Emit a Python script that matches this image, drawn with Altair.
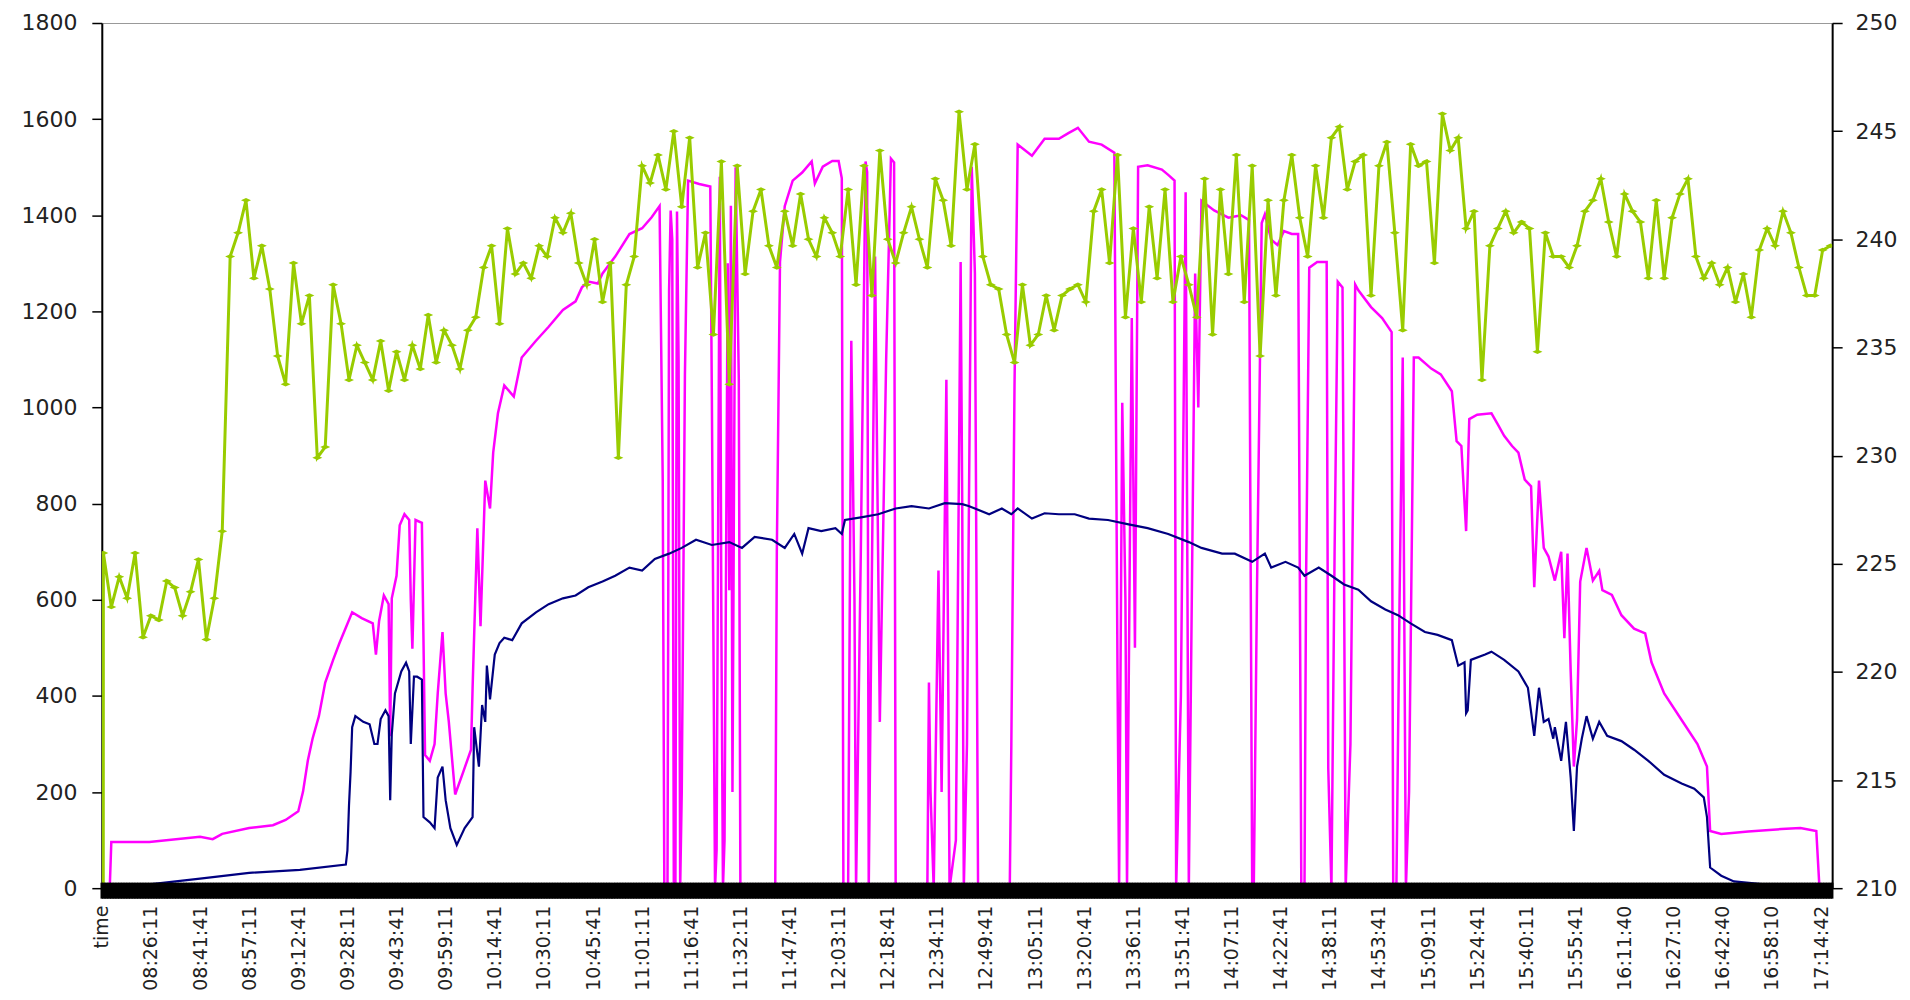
import json
import altair as alt
import pandas as pd

# ---------------- data ----------------
# category labels shown on the x axis (one every 31 samples; first category is the header "time")
X_LABELS = ["time", "08:26:11", "08:41:41", "08:57:11", "09:12:41", "09:28:11", "09:43:41",
            "09:59:11", "10:14:41", "10:30:11", "10:45:41", "11:01:11", "11:16:41", "11:32:11",
            "11:47:41", "12:03:11", "12:18:41", "12:34:11", "12:49:41", "13:05:11", "13:20:41",
            "13:36:11", "13:51:41", "14:07:11", "14:22:41", "14:38:11", "14:53:41", "15:09:11",
            "15:24:41", "15:40:11", "15:55:41", "16:11:40", "16:27:10", "16:42:40", "16:58:10",
            "17:14:42"]
LABEL_EVERY = 31
N_SAMPLES = 1093

# green series (right axis, V) - header row plotted as 0, then one reading every 5 samples
GREEN_HEADER = 0.0
GREEN_START = 1
GREEN_STEP = 5
GREEN_V = [
    225.5, 223.0, 224.4, 223.4, 225.5, 221.6, 222.6, 222.4, 224.2, 223.9,
    222.6, 223.7, 225.2, 221.5, 223.4, 226.5, 239.2, 240.3, 241.8, 238.2,
    239.7, 237.7, 234.6, 233.3, 238.9, 236.1, 237.4, 229.9, 230.4, 237.9,
    236.1, 233.5, 235.1, 234.3, 233.5, 235.3, 233.0, 234.8, 233.5, 235.1,
    234.0, 236.5, 234.3, 235.8, 235.1, 234.0, 235.8, 236.4, 238.7, 239.7,
    236.1, 240.5, 238.4, 238.9, 238.2, 239.7, 239.2, 241.0, 240.3, 241.2,
    238.9, 237.9, 240.0, 237.1, 238.9, 229.9, 237.9, 239.2, 243.4, 242.6,
    243.9, 242.3, 245.0, 241.5, 244.7, 238.7, 240.3, 235.6, 243.6, 233.3,
    243.4, 238.4, 241.3, 242.3, 239.7, 238.7, 241.3, 239.7, 242.1, 240.0,
    239.2, 241.0, 240.3, 239.2, 242.3, 237.9, 243.4, 237.4, 244.1, 240.0,
    238.9, 240.3, 241.5, 240.0, 238.7, 242.8, 241.8, 239.7, 245.9, 242.3,
    244.4, 239.2, 237.9, 237.7, 235.6, 234.3, 237.9, 235.1, 235.6, 237.4,
    235.8, 237.4, 237.7, 237.9, 237.1, 241.3, 242.3, 238.9, 243.9, 236.4,
    240.5, 237.1, 241.5, 238.2, 242.3, 237.1, 239.2, 237.9, 236.4, 242.8,
    235.6, 242.3, 238.4, 243.9, 237.1, 243.4, 234.6, 241.8, 237.4, 241.8,
    243.9, 241.0, 239.2, 243.4, 241.0, 244.7, 245.2, 242.3, 243.6, 243.9,
    237.4, 243.4, 244.5, 240.3, 235.8, 244.4, 243.4, 243.6, 238.9, 245.8,
    244.1, 244.7, 240.5, 241.3, 233.5, 239.7, 240.5, 241.3, 240.3, 240.8,
    240.5, 234.8, 240.3, 239.2, 239.2, 238.7, 239.7, 241.3, 241.8, 242.8,
    240.8, 239.2, 242.1, 241.3, 240.8, 238.2, 241.8, 238.2, 241.0, 242.1,
    242.8, 239.2, 238.2, 238.9, 237.9, 238.7, 237.1, 238.4, 236.4, 239.5,
    240.5, 239.7, 241.3, 240.3, 238.7, 237.4, 237.4, 239.5, 239.7,
]

# magenta series (left axis): sample index / value
MAG_X = [0, 5, 6, 30, 62, 70, 76, 93, 108, 116, 124, 127, 130, 133, 137, 141, 146, 150, 158, 164,
         171, 173, 175, 178, 181, 182, 183, 186, 188, 191, 194, 195, 196, 198, 202, 204, 207, 210,
         212, 215, 217, 219, 223, 228, 233, 234, 237, 239, 242, 245, 247, 250, 254, 260, 265, 274,
         282, 291, 299, 303, 307, 313, 316, 324, 333, 341, 347, 352, 354, 355, 357, 358, 359, 360,
         361, 362, 363, 364, 365, 366, 368, 370, 377, 384, 385, 387, 388, 390, 391, 392, 393, 395,
         396, 397, 398, 400, 402, 403, 425, 426, 428, 431, 436, 442, 448, 450, 455, 461, 465, 467,
         468, 471, 473, 475, 476, 479, 482, 483, 484, 488, 491, 495, 498, 500, 501, 521, 522, 523,
         525, 528, 530, 533, 535, 539, 542, 543, 544, 546, 549, 551, 553, 573, 574, 576, 578, 587,
         595, 604, 610, 616, 623, 631, 639, 641, 642, 644, 646, 647, 650, 652, 654, 660, 669, 673,
         677, 678, 681, 684, 686, 690, 692, 694, 702, 711, 719, 724, 726, 727, 729, 732, 734, 738,
         742, 746, 751, 755, 757, 759, 760, 762, 767, 773, 774, 776, 778, 780, 783, 785, 788, 791,
         793, 801, 808, 814, 815, 817, 819, 821, 823, 825, 828, 831, 839, 845, 852, 855, 858, 861,
         863, 868, 877, 881, 885, 890, 894, 898, 902, 904, 907, 910, 913, 917, 921, 923, 925, 927,
         929, 931, 933, 937, 941, 945, 947, 953, 959, 967, 974, 978, 986, 997, 1007, 1013, 1015,
         1022, 1039, 1060, 1072, 1082, 1084, 1092]
MAG_Y = [0, 0, 96, 96, 107, 102, 113, 125, 131, 142, 160, 201, 265, 311, 358, 428, 475, 510, 574, 562,
         551, 486, 556, 609, 591, 316, 603, 650, 755, 778, 766, 600, 498, 766, 760, 277, 265, 300,
         405, 533, 405, 346, 195, 241, 288, 416, 749, 545, 848, 790, 906, 988, 1046, 1023, 1104, 1139,
         1168, 1203, 1221, 1250, 1262, 1258, 1279, 1314, 1361, 1373, 1396, 1419, 848, 0, 0, 1244, 1410, 1350,
         0, 0, 1408, 1100, 0, 200, 1069, 1472, 1465, 1460, 1023, 0, 80, 1480, 550, 0, 100, 1300,
         620, 1420, 200, 1500, 1060, 0, 0, 700, 1303, 1419, 1472, 1489, 1512, 1466, 1501, 1513, 1513, 1477,
         0, 0, 1139, 600, 0, 700, 1512, 1490, 0, 1314, 346, 1100, 1518, 1510, 0, 0, 428, 200,
         0, 661, 200, 1058, 0, 100, 1303, 800, 0, 300, 1501, 1279, 0, 0, 300, 1046, 1547, 1524,
         1559, 1559, 1571, 1582, 1553, 1547, 1530, 450, 0, 1010, 600, 0, 1186, 500, 1501, 1504, 1495, 1484,
         1472, 0, 400, 1448, 0, 1279, 1000, 1430, 1410, 1395, 1400, 1390, 0, 0, 615, 1384, 1402, 1349,
         1338, 1367, 1361, 1361, 0, 0, 638, 1291, 1303, 1303, 250, 0, 700, 1262, 1250, 0, 300, 1256,
         1244, 1209, 1186, 1157, 0, 0, 600, 1104, 0, 200, 1104, 1104, 1081, 1069, 1034, 930, 920, 743,
         976, 985, 988, 965, 941, 920, 906, 850, 836, 626, 848, 708, 690, 640, 700, 520, 696, 450,
         253, 350, 638, 708, 640, 660, 620, 610, 568, 540, 530, 470, 405, 350, 300, 253, 119,
         113, 118, 123, 125, 119, 0, 0]

# navy series (left axis): sample index / value
NAVY_X = [0, 3, 30, 62, 93, 125, 154, 155, 156, 157, 158, 160, 165, 169, 172, 174, 176, 179, 181, 182,
          183, 185, 189, 192, 194, 195, 197, 199, 202, 203, 207, 210, 212, 215, 217, 220, 224, 229,
          234, 235, 238, 240, 242, 243, 245, 248, 251, 254, 259, 265, 274, 282, 291, 299, 307, 316,
          324, 333, 341, 349, 358, 366, 375, 385, 396, 404, 412, 423, 431, 437, 442, 446, 454, 463,
          467, 469, 480, 490, 501, 511, 522, 532, 543, 547, 551, 560, 568, 574, 578, 587, 595, 604,
          614, 623, 635, 648, 660, 673, 686, 694, 707, 715, 726, 734, 738, 747, 755, 759, 768, 776,
          784, 793, 801, 810, 818, 826, 835, 843, 852, 856, 860, 861, 862, 864, 873, 877, 885, 894,
          900, 904, 907, 910, 913, 916, 917, 921, 924, 927, 929, 931, 934, 937, 941, 945, 950, 959,
          967, 976, 986, 997, 1005, 1011, 1013, 1015, 1022, 1030, 1049, 1081, 1092]
NAVY_Y = [0, 3, 8, 20, 32, 38, 49, 78, 172, 242, 335, 358, 346, 341, 300, 300, 352, 370, 358, 183,
          320, 405, 451, 469, 451, 300, 440, 440, 434, 148, 137, 125, 230, 253, 183, 125, 90, 125,
          148, 335, 253, 381, 346, 463, 393, 486, 510, 521, 516, 551, 574, 591, 603, 609, 626, 638,
          650, 667, 661, 685, 696, 708, 725, 714, 720, 708, 731, 725, 708, 737, 696, 749, 743, 749,
          737, 766, 772, 778, 790, 795, 790, 801, 799, 795, 790, 778, 790, 778, 790, 769, 780, 778,
          778, 769, 766, 757, 749, 737, 720, 708, 696, 696, 679, 696, 667, 679, 667, 650, 667, 650,
          632, 621, 597, 580, 568, 551, 533, 527, 516, 463, 470, 364, 370, 475, 486, 492, 475, 451,
          417, 317, 417, 346, 352, 311, 335, 265, 346, 230, 119, 253, 311, 358, 311, 346, 317, 306,
          288, 265, 236, 218, 207, 189, 148, 43, 26, 14, 8, 6, 5]

# ---------------- tables ----------------
green_x = [0] + [GREEN_START + GREEN_STEP * i for i in range(len(GREEN_V))]
green_df = pd.DataFrame({"s": green_x, "v": [GREEN_HEADER] + GREEN_V})
green_pts_df = green_df.iloc[1:]
mag_df = pd.DataFrame({"s": MAG_X, "p": MAG_Y})
navy_df = pd.DataFrame({"s": NAVY_X, "p": NAVY_Y})
band_df = pd.DataFrame({"s": list(range(N_SAMPLES))})

FONT = "DejaVu Sans"
TXT = "#222222"

x_scale = alt.Scale(domain=[0, N_SAMPLES - 1], nice=False, zero=False)
labels_js = json.dumps(X_LABELS).replace('"', "'")
x_axis = alt.Axis(
    values=[i * LABEL_EVERY for i in range(len(X_LABELS))],
    labelExpr=f"{labels_js}[round(datum.value / {LABEL_EVERY})]",
    labelAngle=270, labelFont=FONT, labelFontSize=19, labelColor=TXT,
    labelPadding=17, labelOverlap=False, labelBound=False, labelFlush=False,
    ticks=False, domain=False, grid=False, title=None,
)
X = alt.X("s:Q", scale=x_scale, axis=x_axis)

left_scale = alt.Scale(domain=[0, 1800], nice=False, zero=True)
left_axis = alt.Axis(
    orient="left", values=list(range(0, 1801, 200)), format="d", title=None, grid=False,
    labelFont=FONT, labelFontSize=22, labelColor=TXT, labelPadding=15,
    tickSize=10, tickColor="black", tickWidth=1.5, domainColor="black", domainWidth=2,
)
right_scale = alt.Scale(domain=[210, 250], nice=False, zero=False)
right_axis = alt.Axis(
    orient="right", values=list(range(210, 251, 5)), format="d", title=None, grid=False,
    labelFont=FONT, labelFontSize=22, labelColor=TXT, labelPadding=13,
    tickSize=10, tickColor="black", tickWidth=1.5, domainColor="black", domainWidth=2,
)

mag = alt.Chart(mag_df).mark_line(color="#ff00ff", strokeWidth=2.5).encode(
    x=X, y=alt.Y("p:Q", scale=left_scale, axis=left_axis))
navy = alt.Chart(navy_df).mark_line(color="#000080", strokeWidth=2.2).encode(
    x=X, y=alt.Y("p:Q", scale=left_scale, axis=left_axis))
left_group = alt.layer(mag, navy)

green_line = alt.Chart(green_df).mark_line(color="#99cc00", strokeWidth=3, clip=True).encode(
    x=X, y=alt.Y("v:Q", scale=right_scale, axis=right_axis))
green_pts = alt.Chart(green_pts_df).mark_point(
    shape="M-1,0L0,-0.45L1,0L0,0.45Z", filled=True, size=100, color="#99cc00",
    opacity=1, clip=True).encode(
    x=X, y=alt.Y("v:Q", scale=right_scale, axis=right_axis))
green_group = alt.layer(green_line, green_pts)

band = alt.Chart(band_df).mark_tick(
    orient="vertical", size=16, thickness=2.6, color="black", opacity=1, yOffset=2.5).encode(
    x=X, y=alt.value(867))

chart = alt.layer(left_group, green_group, band).resolve_scale(
    y="independent"
).properties(
    width=1734, height=867,
    autosize=alt.AutoSizeParams(type="none"),
    padding={"left": 94, "top": 14, "right": 70, "bottom": 105},
).configure_view(stroke="#999999", strokeWidth=1)

chart.save("out.html", embed_options={"renderer": "svg", "actions": False})
